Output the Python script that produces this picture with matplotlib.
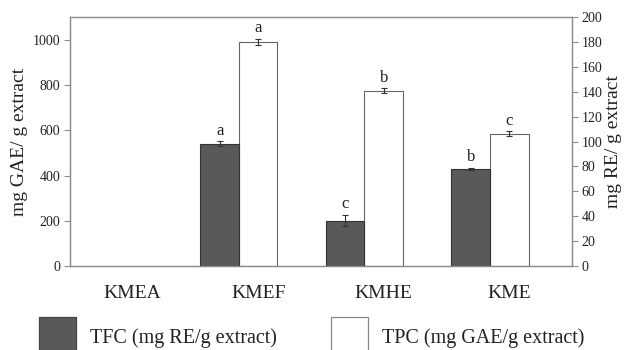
import matplotlib
matplotlib.use("Agg")
import matplotlib.pyplot as plt
import numpy as np
from matplotlib.patches import Rectangle

plt.rcParams['font.family'] = ['Liberation Serif', 'DejaVu Serif']

categories = ["KMEA", "KMEF", "KMHE", "KME"]
# TPC in mg GAE/g extract (left axis)
tpc = [np.nan, 990, 775, 585]
tpc_err = [0, 15, 10, 10]
tpc_letters = ["", "a", "b", "c"]
# TFC in mg RE/g extract (right axis)
tfc = [np.nan, 98.3, 36.5, 78.0]
tfc_err = [0, 1.8, 4.5, 0.8]
tfc_letters = ["", "a", "c", "b"]

left_ticks = [0, 200, 400, 600, 800, 1000]
right_ticks = [0, 20, 40, 60, 80, 100, 120, 140, 160, 180, 200]

dark = "#595959"
spine_c = "#8c8c8c"
text_c = "#222222"

fig = plt.figure(figsize=(6.3, 3.5), dpi=100)
ax = fig.add_axes([0.111, 0.24, 0.797, 0.711])
ax2 = ax.twinx()

x = np.arange(len(categories))
w = 0.307

ax2.bar(x - w, tfc, w, color=dark, edgecolor="#333333", linewidth=0.8, zorder=2)
ax2.errorbar(x - w, tfc, yerr=tfc_err, fmt="none", ecolor="#333333",
             elinewidth=0.8, capsize=2, capthick=0.8, zorder=3)
ax.bar(x, tpc, w, color="white", edgecolor="#666666", linewidth=0.8, zorder=2)
ax.errorbar(x, tpc, yerr=tpc_err, fmt="none", ecolor="#333333",
            elinewidth=0.8, capsize=2, capthick=0.8, zorder=3)

for xi, v, e, t in zip(x, tfc, tfc_err, tfc_letters):
    if t:
        ax2.annotate(t, (xi - w, v + e), xytext=(0, 2), textcoords="offset points",
                     ha="center", va="bottom", fontsize=12, color=text_c)
for xi, v, e, t in zip(x, tpc, tpc_err, tpc_letters):
    if t:
        ax.annotate(t, (xi, v + e), xytext=(0, 2), textcoords="offset points",
                    ha="center", va="bottom", fontsize=12, color=text_c)

ax.set_xlim(-0.5, 3.5)
ax.set_ylim(0, 1100)
ax2.set_ylim(0, 200)
ax.set_yticks(left_ticks)
ax2.set_yticks(right_ticks)
ax.set_xticks(x)
ax.set_xticklabels(categories, fontsize=14, color=text_c)
ax.tick_params(axis="x", length=0, pad=14)
ax.tick_params(axis="y", direction="out", length=4, width=0.8, color=spine_c,
               labelsize=10, labelcolor=text_c, pad=3)
ax2.tick_params(axis="y", direction="out", length=4, width=0.8, color=spine_c,
                labelsize=10, labelcolor=text_c, pad=3)

for a in (ax, ax2):
    for s in a.spines.values():
        s.set_color(spine_c)
        s.set_linewidth(0.9)

ax.set_ylabel("mg GAE/ g extract", fontsize=14, color=text_c, labelpad=3)
ax2.set_ylabel("mg RE/ g extract", fontsize=14, color=text_c, labelpad=2)

# legend drawn in figure coordinates
W, H = 630.0, 350.0
leg_labels = ["TFC (mg RE/g extract)", "TPC (mg GAE/g extract)"]
leg_faces = [dark, "white"]
leg_edges = ["#444444", "#888888"]
leg_x = [39, 331]
for lx, lab, fc, ec in zip(leg_x, leg_labels, leg_faces, leg_edges):
    fig.patches.append(Rectangle((lx / W, -0.02), 37 / W, (350 - 317) / H + 0.02,
                                 transform=fig.transFigure, facecolor=fc,
                                 edgecolor=ec, linewidth=0.9))
    fig.text((lx + 51) / W, 1 - 338 / H, lab, fontsize=14.5, color=text_c,
             ha="left", va="center")

fig.savefig("out.png", dpi=100)
